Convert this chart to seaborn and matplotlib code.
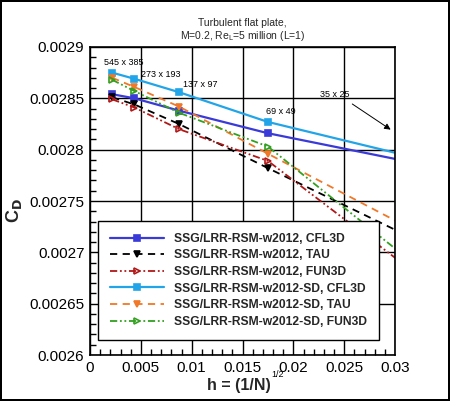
import matplotlib
matplotlib.use("Agg")
import matplotlib.pyplot as plt
import numpy as np
import pandas as pd
import seaborn as sns
from matplotlib.ticker import MultipleLocator, FuncFormatter

# grid spacing h = (1/N)^(1/2) for the 5 grids
h = [0.002188, 0.004376, 0.008752, 0.017504, 0.035007]
grid_labels = ["545 x 385", "273 x 193", "137 x 97", "69 x 49", "35 x 25"]

# drag coefficient values
cd_cfl3d = [0.002854, 0.002850, 0.002838, 0.002816, 0.002781]
cd_tau = [0.002851, 0.002844, 0.002825, 0.002782, 0.002698]
cd_fun3d = [0.002849, 0.002841, 0.002820, 0.002789, 0.002657]
cd_sd_cfl3d = [0.002875, 0.002869, 0.002856, 0.002827, 0.002785]
cd_sd_tau = [0.002870, 0.002861, 0.002842, 0.002796, 0.002705]
cd_sd_fun3d = [0.002868, 0.002857, 0.002836, 0.002803, 0.002664]

series = [
    ("SSG/LRR-RSM-w2012, CFL3D", cd_cfl3d, "#3a3ad8", "-", "s", True),
    ("SSG/LRR-RSM-w2012, TAU", cd_tau, "black", (0, (4, 3)), "v", True),
    ("SSG/LRR-RSM-w2012, FUN3D", cd_fun3d, "#b01818", (0, (4, 1.5, 1, 1.5, 1, 1.5)), ">", False),
    ("SSG/LRR-RSM-w2012-SD, CFL3D", cd_sd_cfl3d, "#22a5e8", "-", "s", True),
    ("SSG/LRR-RSM-w2012-SD, TAU", cd_sd_tau, "#f07828", (0, (4, 3)), "v", True),
    ("SSG/LRR-RSM-w2012-SD, FUN3D", cd_sd_fun3d, "#34a020", (0, (4, 1.5, 1, 1.5, 1, 1.5)), ">", False),
]

sns.set_theme(style="white")
plt.rcParams["font.family"] = ["Liberation Sans", "DejaVu Sans"]

fig = plt.figure(figsize=(4.5, 4.01), dpi=100, linewidth=1.5, edgecolor="black")
ax = fig.add_axes([0.2, 0.1147, 0.6778, 0.7681])

for name, vals, color, ls, mk, filled in series:
    df = pd.DataFrame({"h": h, "cd": vals})
    sns.lineplot(data=df, x="h", y="cd", ax=ax, color=color, linestyle=ls,
                 linewidth=1.6 if ls == "-" else 1.3, marker=mk, markersize=4.5,
                 markerfacecolor=color if filled else "none",
                 markeredgecolor=color, markeredgewidth=1.2,
                 label=name, sort=False, estimator=None)

ax.set_xlim(0, 0.03)
ax.set_ylim(0.0026, 0.0029)
ax.xaxis.set_major_locator(MultipleLocator(0.005))
ax.xaxis.set_minor_locator(MultipleLocator(0.001))
ax.yaxis.set_major_locator(MultipleLocator(0.00005))
ax.yaxis.set_minor_locator(MultipleLocator(0.00001))
fmt = FuncFormatter(lambda v, p: "0" if abs(v) < 1e-12 else f"{v:.6g}")
ax.xaxis.set_major_formatter(fmt)
ax.yaxis.set_major_formatter(fmt)
ax.tick_params(which="both", direction="in", top=False, right=False,
               colors="black", labelsize=11)
ax.tick_params(which="major", length=6, width=1, pad=4)
ax.tick_params(which="minor", length=4, width=1, left=True, bottom=True)
ax.grid(True, which="major", color="black", linewidth=1)
for s in ax.spines.values():
    s.set_color("black")
    s.set_linewidth(1.2)

# x label with a small superscript drawn as its own text
ax.set_xlabel("h = (1/N)", fontsize=11.5, fontweight="bold")
ax.xaxis.set_label_coords(0.489, -0.074)
ax.text(0.595, -0.05, "1/2", transform=ax.transAxes, fontsize=6.5,
        ha="left", va="top", color="black")
ax.set_ylabel("C$_\\mathbf{D}$", fontsize=13, fontweight="bold")
ax.yaxis.set_label_coords(-0.215, 0.47)

ax.set_title("Turbulent flat plate,\nM=0.2, Re$_\\mathregular{L}$=5 million (L=1)",
             fontsize=7.5, loc="center", pad=6, linespacing=1.1)

# grid size annotations
label_pos = [(0.00138, 0.002885), (0.00502, 0.002873), (0.00915, 0.002863),
             (0.01731, 0.002837), (0.02262, 0.002854)]
for txt, (x, y) in zip(grid_labels, label_pos):
    ax.text(x, y, txt, fontsize=6.5, va="center", ha="left", color="black")
ax.annotate("", xy=(0.0298, 0.002818), xytext=(0.02557, 0.002846),
            arrowprops=dict(arrowstyle="-|>", color="black", lw=0.7,
                            mutation_scale=9))

leg = ax.legend(loc="lower left", bbox_to_anchor=(0.026, 0.049), frameon=True,
                fancybox=False, edgecolor="black", framealpha=1,
                prop={"weight": "bold", "size": 8.7}, handlelength=4.5,
                labelspacing=0.38, borderpad=1.0, handletextpad=0.8,
                borderaxespad=0)
leg.get_frame().set_linewidth(1)

fig.savefig("out.png", dpi=100, facecolor="white", edgecolor="black")
